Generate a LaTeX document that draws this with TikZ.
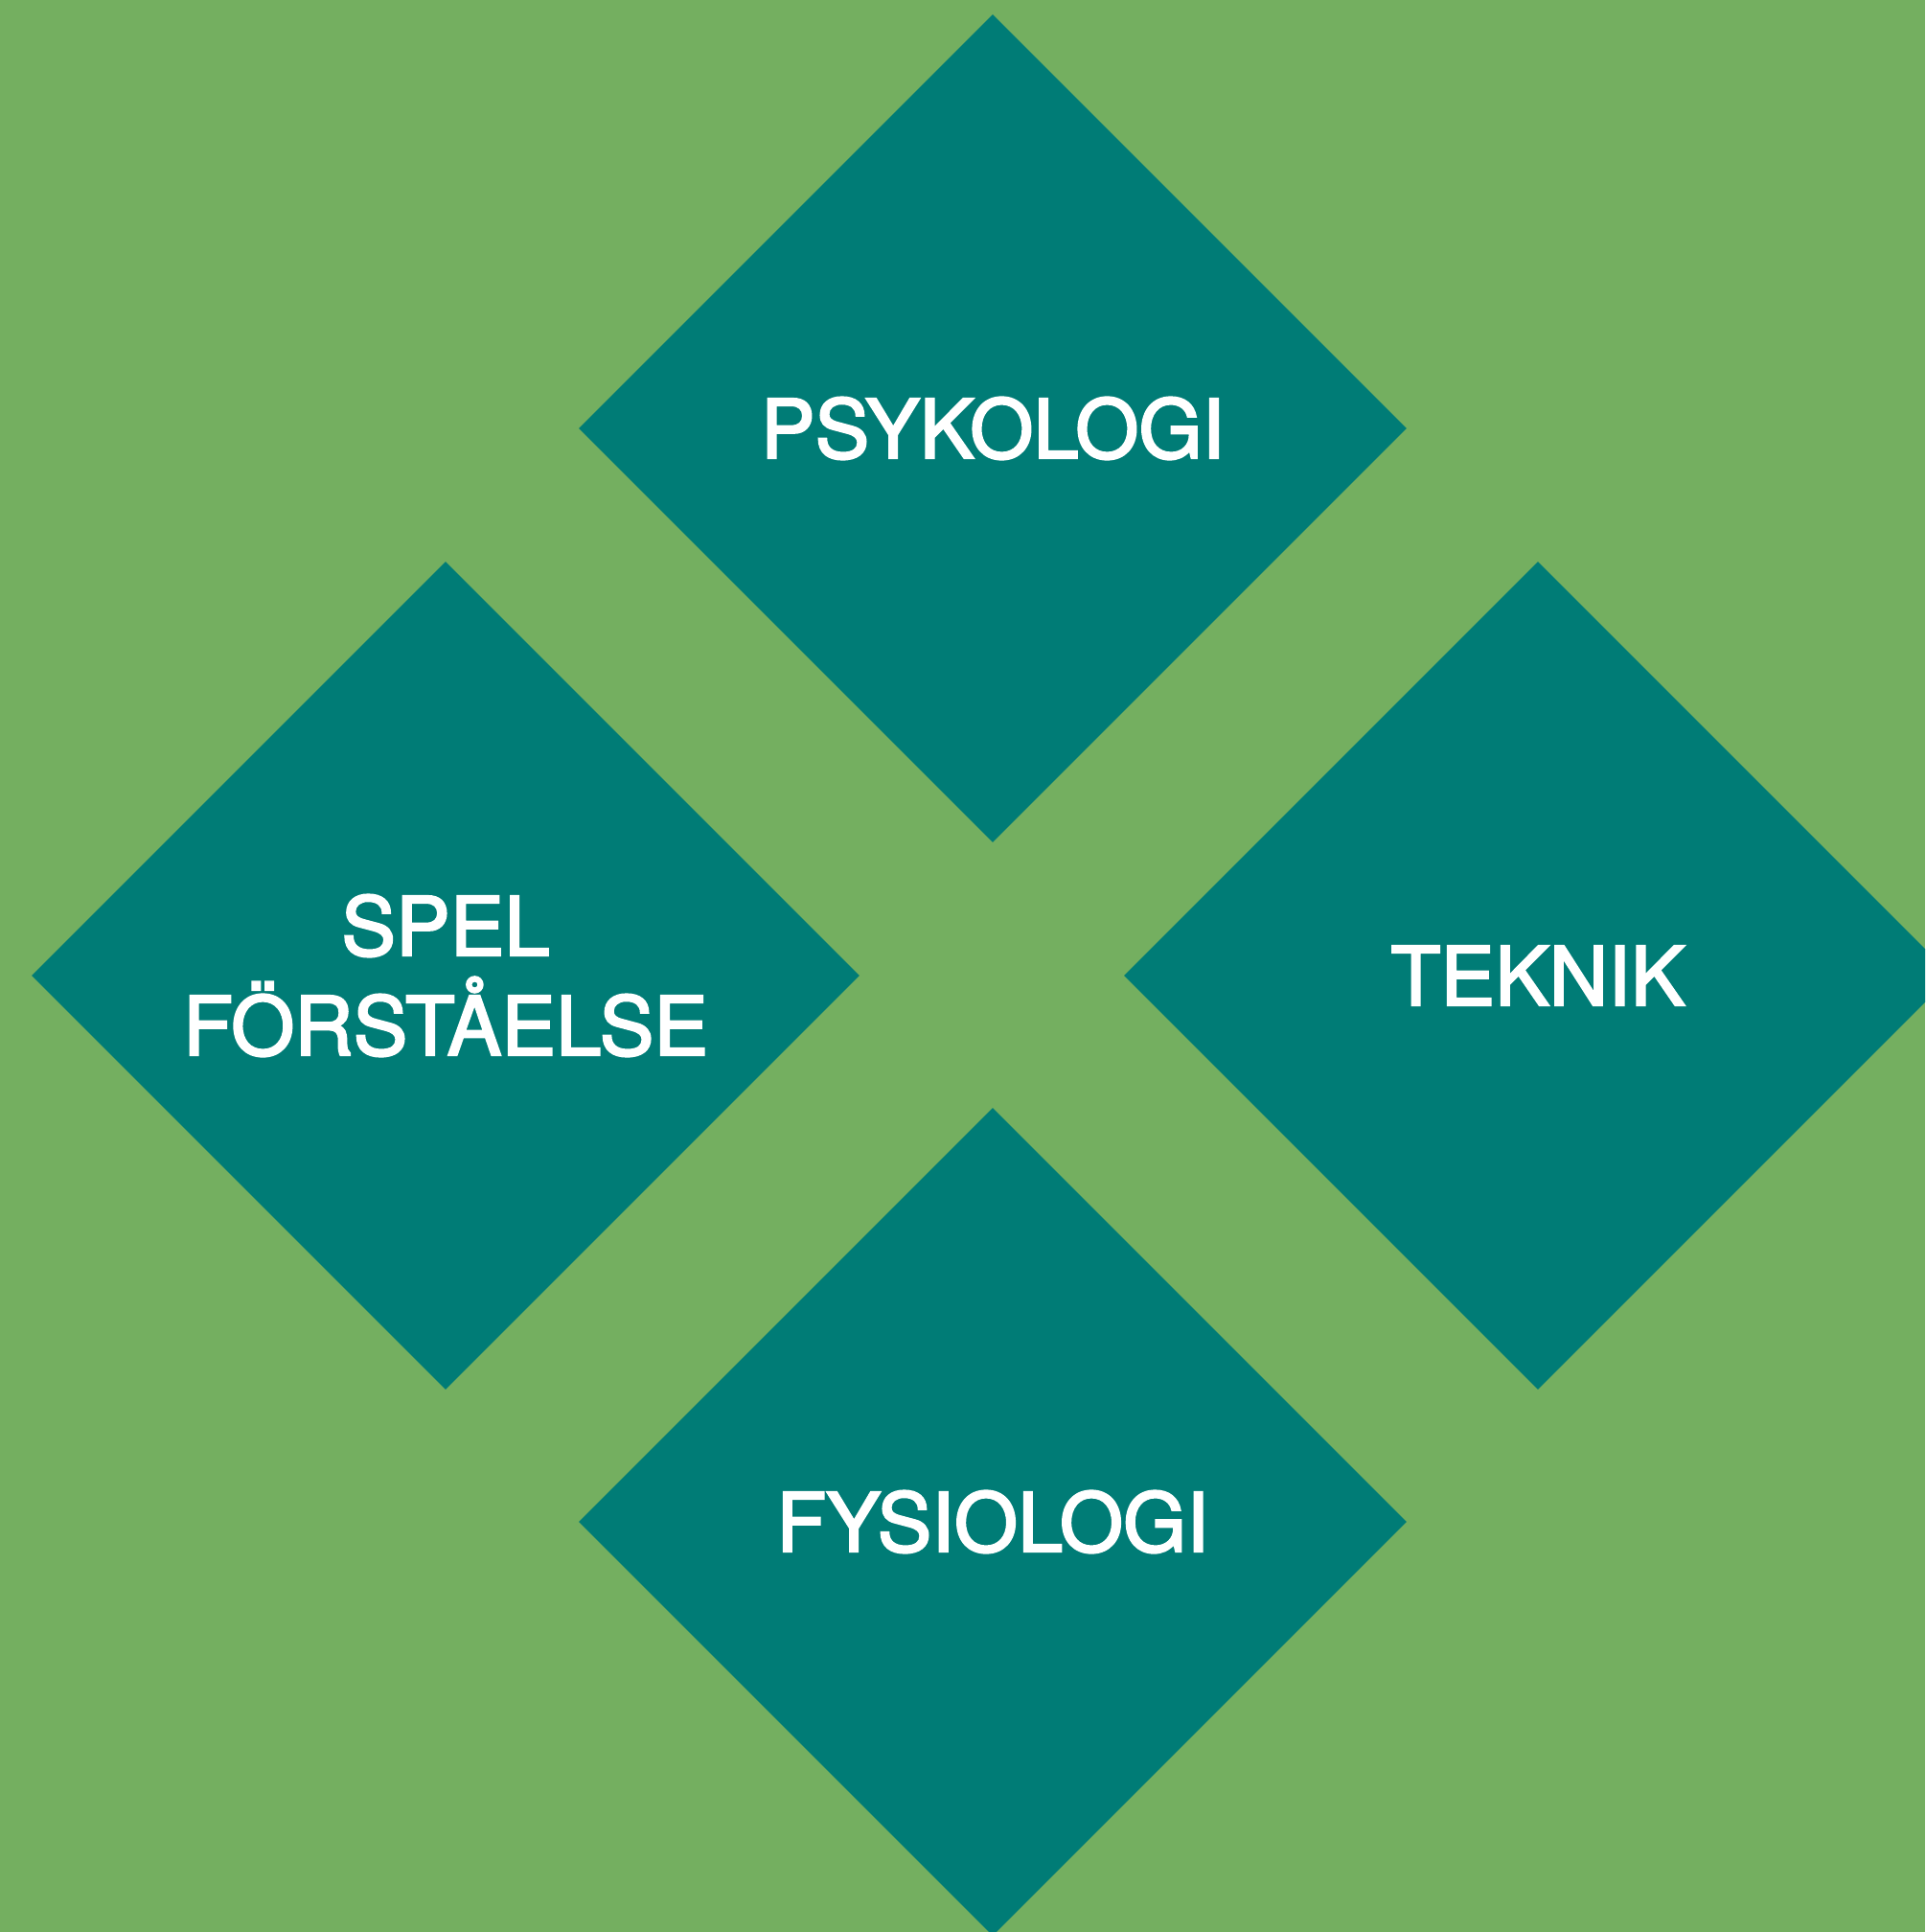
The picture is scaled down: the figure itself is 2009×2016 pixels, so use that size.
\documentclass[tikz,border=0pt]{standalone}
\usepackage{fontspec}
\setmainfont{TeX Gyre Heros}
\newfontfamily\tilefont[FakeBold=2.6]{TeX Gyre Heros}
\usetikzlibrary{shapes.geometric}
\definecolor{field}{RGB}{116,175,96}
\definecolor{tile}{RGB}{0,124,118}
\tikzset{
  every picture/.style={x=0.5pt, y=-0.5pt},
  area/.style={diamond, aspect=1, fill=tile, draw=none, inner sep=0pt,
    minimum width=432pt, minimum height=432pt, text=white, align=center,
    font=\tilefont\fontsize{42.5}{52}\selectfont},
}
\begin{document}
\begin{tikzpicture}
  \fill[field] (0,0) rectangle (2009,2016);
  \useasboundingbox (0,0) rectangle (2009,2016);
  \clip (0,0) rectangle (2009,2016);
  % four areas, one diamond each
  \node[area] (psyk) at (1036,447) {PSYKOLOGI};
  \node[area] (spel) at (465,1018) {SPEL\\FÖRSTÅELSE};
  \node[area] (tekn) at (1605,1018) {TEKNIK};
  \node[area] (fysi) at (1036,1588) {FYSIOLOGI};
\end{tikzpicture}
\end{document}
